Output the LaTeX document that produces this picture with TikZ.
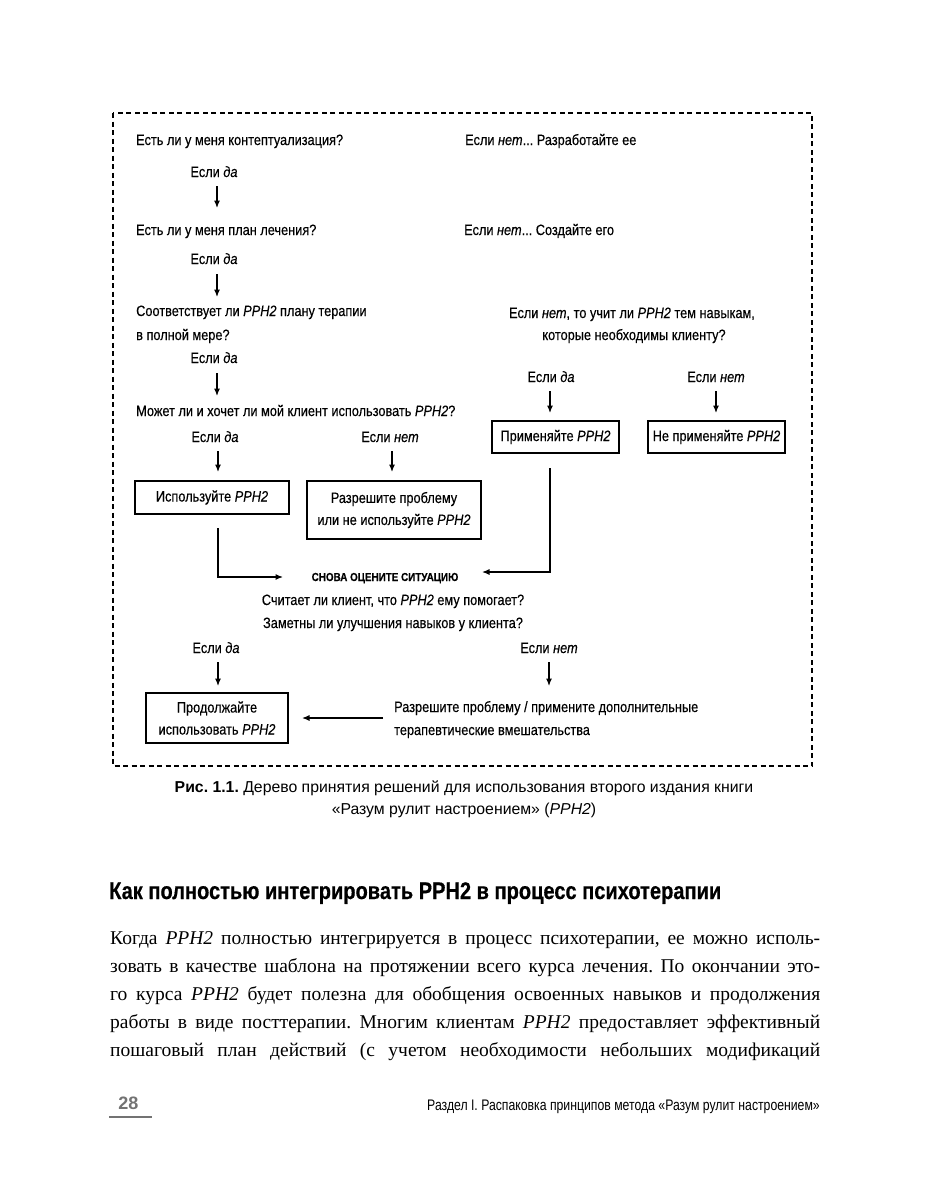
\documentclass[tikz,border=0pt]{standalone}
\usepackage{fontspec}
\setmainfont{Liberation Serif}
\newfontfamily\dfont[FakeStretch=0.85,FakeBold=0.3]{Liberation Sans}
\newfontfamily\cfont[FakeStretch=1.0]{Liberation Sans}
\newfontfamily\hfont[FakeStretch=0.835,FakeBold=0.5]{Liberation Sans}
\newfontfamily\ffont[FakeStretch=0.8]{Liberation Sans}
\usetikzlibrary{arrows.meta}
\definecolor{footgray}{gray}{0.45}
\tikzset{
  dt/.style={font=\dfont\fontsize{15}{22}\selectfont, inner sep=0pt},
  dtl/.style={dt, anchor=base west},
  dtc/.style={dt, anchor=base},
  boxn/.style={draw, line width=1.2pt, font=\dfont\fontsize{15}{22}\selectfont, align=center, inner sep=0pt},
  arr/.style={-{Latex[length=7.5pt,width=6pt]}, line width=1.2pt},
  frame/.style={line width=1.5pt, dash pattern=on 5pt off 3.5pt},
  bodyl/.style={anchor=base west, inner sep=0pt, font=\fontsize{19.5}{28}\selectfont},
}
\newcommand{\rr}{\textit{РРН2}}
\frenchspacing
\begin{document}
\begin{tikzpicture}[x=1pt, y=-1pt]
\useasboundingbox[fill=white] (0,0) rectangle (927,1200);
% frame
\draw[frame] (113,113) rectangle (812,766);

% left column
\node[dtl] (q1) at (136,145) {Есть ли у меня контептуализация?};
\node[dtl] (r1) at (465,145) {Если \textit{нет}... Разработайте ее};
\node[dtc] (l1) at (214,177) {Если \textit{да}};
\coordinate (a1s) at (217,186); \coordinate (a1e) at (217,208);
\draw[arr] (a1s) -- (a1e);
\node[dtl] (q2) at (136,235) {Есть ли у меня план лечения?};
\node[dtl] (r2) at (464,235) {Если \textit{нет}... Создайте его};
\node[dtc] (l2) at (214,264) {Если \textit{да}};
\coordinate (a2s) at (217,274); \coordinate (a2e) at (217,297);
\draw[arr] (a2s) -- (a2e);
\node[dtl] (q3a) at (136,316) {Соответствует ли \rr{} плану терапии};
\node[dtl] (q3b) at (136,340) {в полной мере?};
\node[dtc] (l3) at (214,363) {Если \textit{да}};
\coordinate (a3s) at (217,373); \coordinate (a3e) at (217,396);
\draw[arr] (a3s) -- (a3e);
\node[dtl] (q4) at (136,416) {Может ли и хочет ли мой клиент использовать \rr?};
\node[dtc] (l4a) at (215,442) {Если \textit{да}};
\node[dtc] (l4b) at (390,442) {Если \textit{нет}};
\coordinate (a4s) at (218,451); \coordinate (a4e) at (218,472);
\coordinate (a5s) at (392,451); \coordinate (a5e) at (392,472);
\draw[arr] (a4s) -- (a4e);
\draw[arr] (a5s) -- (a5e);

% right column
\node[dtc] (r3a) at (632,318) {Если \textit{нет}, то учит ли \rr{} тем навыкам,};
\node[dtc] (r3b) at (634,340) {которые необходимы клиенту?};
\node[dtc] (l5a) at (551,382) {Если \textit{да}};
\node[dtc] (l5b) at (716,382) {Если \textit{нет}};
\coordinate (a6s) at (550,391); \coordinate (a6e) at (550,413);
\coordinate (a7s) at (716,391); \coordinate (a7e) at (716,413);
\draw[arr] (a6s) -- (a6e);
\draw[arr] (a7s) -- (a7e);
\node[boxn, minimum width=127, minimum height=32] (b3) at (555.5,437) {Применяйте \rr};
\node[boxn, minimum width=137, minimum height=32] (b4) at (716.5,437) {Не применяйте \rr};

% boxes
\node[boxn, minimum width=154, minimum height=33] (b1) at (212,497.5) {Используйте \rr};
\node[boxn, minimum width=174, minimum height=58] (b2) at (394,510) {Разрешите проблему\\или не используйте \rr};

% re-evaluate
\node[dt, anchor=base, font=\dfont\bfseries\fontsize{11.6}{15}\selectfont] (re) at (385,581) {СНОВА ОЦЕНИТЕ СИТУАЦИЮ};
\coordinate (c1s) at (218,528); \coordinate (c1m) at (218,577); \coordinate (c1e) at (283,577);
\draw[arr] (c1s) -- (c1m) -- (c1e);
\coordinate (c2s) at (550,468); \coordinate (c2m) at (550,572); \coordinate (c2e) at (482,572);
\draw[arr] (c2s) -- (c2m) -- (c2e);
\node[dtc] (q5a) at (393,605) {Считает ли клиент, что \rr{} ему помогает?};
\node[dtc] (q5b) at (393,628) {Заметны ли улучшения навыков у клиента?};
\node[dtc] (l6a) at (216,653) {Если \textit{да}};
\node[dtc] (l6b) at (549,653) {Если \textit{нет}};
\coordinate (a8s) at (218,662); \coordinate (a8e) at (218,686);
\coordinate (a9s) at (549,662); \coordinate (a9e) at (549,686);
\draw[arr] (a8s) -- (a8e);
\draw[arr] (a9s) -- (a9e);
\node[boxn, minimum width=142, minimum height=50] (b5) at (217,718) {Продолжайте\\использовать \rr};
\node[dtl] (r6a) at (394,712) {Разрешите проблему / примените дополнительные};
\node[dtl] (r6b) at (394,735) {терапевтические вмешательства};
\coordinate (d1s) at (383,718);
\draw[arr] (d1s) -- (b5.east -| 302,0);

% caption
\node[anchor=base, inner sep=0pt, font=\cfont\fontsize{15.8}{22}\selectfont] (cap1) at (464,792) {\textbf{Рис. 1.1.} Дерево принятия решений для использования второго издания книги};
\node[anchor=base, inner sep=0pt, font=\cfont\fontsize{15.8}{22}\selectfont] (cap2) at (464,814) {«Разум рулит настроением» (\textit{РРН2})};

% heading
\node[anchor=base west, inner sep=0pt, font=\hfont\bfseries\fontsize{24}{28}\selectfont] (head) at (109,899) {Как полностью интегрировать РРН2 в процесс психотерапии};

% body
\node[bodyl] (p1) at (110,944) {\makebox[710pt][s]{Когда \textit{РРН2} полностью интегрируется в процесс психотерапии, ее можно исполь-}};
\node[bodyl] (p2) at (110,972) {\makebox[710pt][s]{зовать в качестве шаблона на протяжении всего курса лечения. По окончании это-}};
\node[bodyl] (p3) at (110,1000) {\makebox[710pt][s]{го курса \textit{РРН2} будет полезна для обобщения освоенных навыков и продолжения}};
\node[bodyl] (p4) at (110,1028) {\makebox[710pt][s]{работы в виде посттерапии. Многим клиентам \textit{РРН2} предоставляет эффективный}};
\node[bodyl] (p5) at (110,1056) {\makebox[710pt][s]{пошаговый план действий (с учетом необходимости небольших модификаций}};

% footer
\node[anchor=base, inner sep=0pt, text=footgray, font=\cfont\bfseries\fontsize{18}{20}\selectfont] (pg) at (128.5,1109) {28};
\coordinate (u1) at (109,1117);
\draw[footgray, line width=1.5pt] (u1) -- (u1 -| 152,0);
\node[anchor=base east, inner sep=0pt, font=\ffont\fontsize{15.3}{20}\selectfont] (ft) at (820,1110) {Раздел I. Распаковка принципов метода «Разум рулит настроением»};
\end{tikzpicture}
\end{document}
